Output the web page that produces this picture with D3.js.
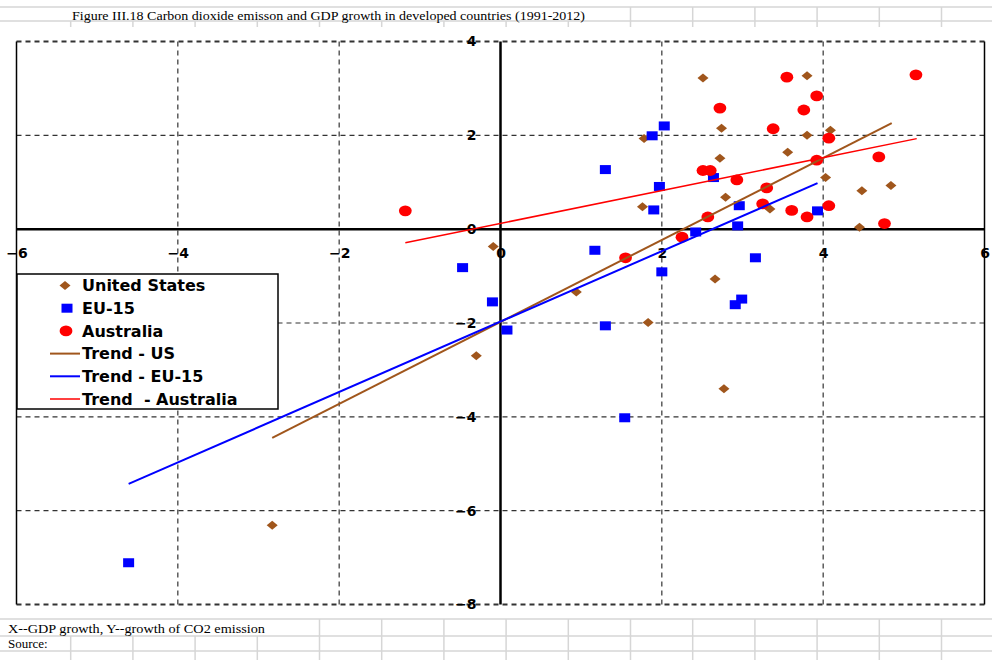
<!DOCTYPE html>
<html>
<head>
<meta charset="utf-8">
<script src="https://cdn.jsdelivr.net/npm/d3@7"></script>
<style>
body { margin: 0; background: #fff; }
svg { display: block; }
</style>
</head>
<body>
<div id="chart"></div>
<script>
// values: [GDP growth, CO2 growth]
var usData = [[2.51,3.22],[3.80,3.27],[2.74,2.15],[1.78,1.93],[3.80,2.00],[4.09,2.11],[2.72,1.51],[3.56,1.64],
  [4.03,1.10],[4.48,0.82],[4.84,0.93],[2.79,0.68],[1.76,0.48],[3.34,0.43],[4.45,0.04],[-0.09,-0.37],
  [2.66,-1.06],[0.94,-1.34],[1.83,-1.99],[-0.30,-2.70],[2.77,-3.40],[-2.83,-6.31]];
var euData = [[1.88,1.99],[2.03,2.20],[1.30,1.27],[1.97,0.91],[2.64,1.10],[1.90,0.41],[2.96,0.50],[3.93,0.39],
  [2.42,-0.06],[2.94,0.07],[1.17,-0.45],[-0.47,-0.82],[2.00,-0.91],[3.16,-0.61],[2.99,-1.49],[2.91,-1.61],
  [-0.10,-1.55],[1.30,-2.06],[0.08,-2.15],[1.54,-4.02],[-4.61,-7.11]];
var auData = [[5.15,3.29],[3.55,3.24],[3.92,2.84],[2.72,2.58],[3.76,2.54],[3.38,2.14],[4.07,1.94],[4.69,1.54],
  [3.92,1.47],[2.51,1.25],[2.60,1.25],[2.93,1.05],[3.30,0.88],[4.07,0.50],[3.25,0.54],[3.61,0.40],
  [3.80,0.26],[2.57,0.26],[4.76,0.12],[2.25,-0.17],[1.55,-0.61],[-1.18,0.39]];

// trend line end points
var trendUS = [[-2.83,-4.45],[4.85,2.26]];
var trendEU = [[-4.61,-5.43],[3.93,0.98]];
var trendAU = [[-1.18,-0.29],[5.16,1.93]];

var xTicks = [-6,-4,-2,0,2,4,6];
var yTicks = [-8,-6,-4,-2,0,2,4];
var legendLabels = ["United States","EU-15","Australia","Trend - US","Trend - EU-15","Trend  - Australia"];

var title = "Figure III.18 Carbon dioxide emisson and GDP growth in developed countries (1991-2012)";
var note1 = "X--GDP growth, Y--growth of CO2 emission";
var note2 = "Source:";

var brown = "#a0561c", blue = "#0000ff", red = "#ff0000";

var width = 992, height = 660;
var svg = d3.select("#chart").append("svg")
  .attr("width", width)
  .attr("height", height);

// spreadsheet cells behind the chart
var cells = svg.append("g").attr("stroke", "#d6d6d6").attr("stroke-width", 1.5);
var cols = d3.range(15).map(function(i){ return 70.7 + 62.2*i; });
[7,21].forEach(function(y){
  cells.append("line").attr("x1",0).attr("x2",width).attr("y1",y).attr("y2",y);
});
[619,636,651].forEach(function(y){
  cells.append("line").attr("x1",0).attr("x2",width).attr("y1",y).attr("y2",y);
});
cols.forEach(function(x){
  // title row: text overflows the cells
  if (x < 70 || x > 595) cells.append("line").attr("x1",x).attr("x2",x).attr("y1",7).attr("y2",21);
  cells.append("line").attr("x1",x).attr("x2",x).attr("y1",21).attr("y2",27);
  if (x > 270) cells.append("line").attr("x1",x).attr("x2",x).attr("y1",619).attr("y2",636);
  cells.append("line").attr("x1",x).attr("x2",x).attr("y1",636).attr("y2",height);
});

svg.append("text")
  .attr("x", 72).attr("y", 19.5)
  .attr("textLength", 513).attr("lengthAdjust", "spacingAndGlyphs")
  .style("font-family", "'Liberation Serif', 'Times New Roman', serif")
  .style("font-size", "13px")
  .text(title);

svg.append("text")
  .attr("x", 8).attr("y", 633)
  .attr("textLength", 257).attr("lengthAdjust", "spacingAndGlyphs")
  .style("font-family", "'Liberation Serif', 'Times New Roman', serif")
  .style("font-size", "13px")
  .text(note1);
svg.append("text")
  .attr("x", 8).attr("y", 648)
  .style("font-family", "'Liberation Serif', 'Times New Roman', serif")
  .style("font-size", "13px")
  .text(note2);

// scales
var x = d3.scaleLinear().domain([-6,6]).range([16.5,984.5]);
var y = d3.scaleLinear().domain([-8,4]).range([604.5,41.5]);

// grid
var grid = svg.append("g").attr("stroke", "#333").attr("stroke-dasharray", "5,4");
grid.selectAll(".vg")
  .data(xTicks.filter(function(d){ return d != 0 && Math.abs(d) != 6; }))
  .enter().append("line")
  .attr("x1", function(d){ return x(d); }).attr("x2", function(d){ return x(d); })
  .attr("y1", y(4)).attr("y2", y(-8))
  .attr("stroke-width", 1.2);
grid.selectAll(".hg")
  .data(yTicks.filter(function(d){ return d != 0; }))
  .enter().append("line")
  .attr("x1", x(-6)).attr("x2", x(6))
  .attr("y1", function(d){ return y(d); }).attr("y2", function(d){ return y(d); })
  .attr("stroke-width", function(d){ return (d == 4 || d == -8) ? 2 : 1.2; });

// side edges of the plot
svg.append("line").attr("x1", x(-6)).attr("x2", x(-6)).attr("y1", y(4)).attr("y2", y(-8))
  .attr("stroke", "#000").attr("stroke-width", 1.5);
svg.append("line").attr("x1", x(6)).attr("x2", x(6)).attr("y1", y(4)).attr("y2", y(-8))
  .attr("stroke", "#000").attr("stroke-width", 1.5);

// axes through the origin
var xAxis = svg.append("g")
  .attr("transform", "translate(0," + y(0) + ")")
  .call(d3.axisBottom(x).tickValues(xTicks).tickSize(0).tickPadding(19).tickFormat(d3.format("d")));
var yAxis = svg.append("g")
  .attr("transform", "translate(" + x(0) + ",0)")
  .call(d3.axisLeft(y).tickValues(yTicks).tickSize(0).tickPadding(24).tickFormat(d3.format("d")));
[xAxis, yAxis].forEach(function(a){
  a.select(".domain").attr("stroke", "#000").attr("stroke-width", 2.5);
  a.selectAll("text")
    .style("font-family", "'DejaVu Sans', sans-serif")
    .style("font-size", "14px")
    .style("font-weight", "bold")
    .attr("fill", "#000");
});
xAxis.select(".domain").attr("d", "M" + x(-6) + ",0H" + x(6));
yAxis.select(".domain").attr("d", "M0," + y(4) + "V" + y(-8));

// markers
var diamond = "M0,-4.5L5.5,0L0,4.5L-5.5,0Z";
svg.append("g").selectAll("path")
  .data(usData).enter().append("path")
  .attr("d", diamond)
  .attr("transform", function(d){ return "translate(" + x(d[0]) + "," + y(d[1]) + ")"; })
  .attr("fill", brown);

svg.append("g").selectAll("rect")
  .data(euData).enter().append("rect")
  .attr("x", function(d){ return x(d[0]) - 5.5; })
  .attr("y", function(d){ return y(d[1]) - 4.5; })
  .attr("width", 11).attr("height", 9)
  .attr("fill", blue);

svg.append("g").selectAll("ellipse")
  .data(auData).enter().append("ellipse")
  .attr("cx", function(d){ return x(d[0]); })
  .attr("cy", function(d){ return y(d[1]); })
  .attr("rx", 6.4).attr("ry", 5.4)
  .attr("fill", red);

// trend lines
var line = d3.line().x(function(d){ return x(d[0]); }).y(function(d){ return y(d[1]); });
svg.append("path").datum(trendUS).attr("d", line).attr("fill", "none").attr("stroke", brown).attr("stroke-width", 2);
svg.append("path").datum(trendEU).attr("d", line).attr("fill", "none").attr("stroke", blue).attr("stroke-width", 2);
svg.append("path").datum(trendAU).attr("d", line).attr("fill", "none").attr("stroke", red).attr("stroke-width", 1.5);

// legend
var lg = svg.append("g");
lg.append("rect")
  .attr("x", 17).attr("y", 274).attr("width", 261).attr("height", 135)
  .attr("fill", "#fff").attr("stroke", "#000").attr("stroke-width", 1.5);

var rowY = d3.range(legendLabels.length).map(function(i){ return 285.5 + i*22.7; });
var rows = lg.selectAll(".row")
  .data(legendLabels).enter().append("g")
  .attr("transform", function(d, i){ return "translate(0," + rowY[i] + ")"; });

rows.append("text")
  .attr("x", 82).attr("dy", "0.36em")
  .style("font-family", "'DejaVu Sans', sans-serif")
  .style("font-size", "16px")
  .style("font-weight", "bold")
  .style("white-space", "pre")
  .text(function(d){ return d; });

rows.filter(function(d, i){ return i == 0; }).append("path")
  .attr("d", diamond).attr("transform", "translate(65,0)").attr("fill", brown);
rows.filter(function(d, i){ return i == 1; }).append("rect")
  .attr("x", 61.5).attr("y", -4.5).attr("width", 11).attr("height", 9).attr("fill", blue);
rows.filter(function(d, i){ return i == 2; }).append("ellipse")
  .attr("cx", 66).attr("cy", 0).attr("rx", 6.4).attr("ry", 5.4).attr("fill", red);
var lineColors = [brown, blue, red];
rows.filter(function(d, i){ return i > 2; }).append("line")
  .attr("x1", 50).attr("x2", 80).attr("y1", 0).attr("y2", 0)
  .attr("stroke", function(d, i){ return lineColors[i]; })
  .attr("stroke-width", function(d, i){ return i == 2 ? 1.5 : 2; });
</script>
</body>
</html>
